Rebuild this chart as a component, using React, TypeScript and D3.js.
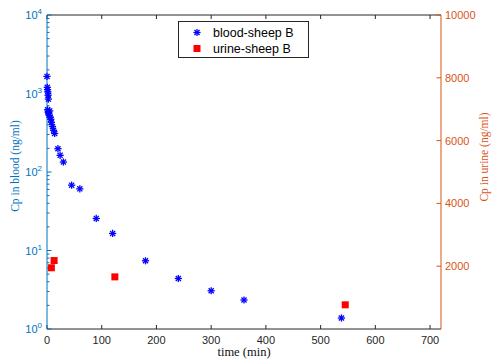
import React, { useEffect, useRef } from 'react';
import * as d3 from 'd3';

// blood-sheep B (left log axis)
const bloodTime = [0, 0.5, 1, 1.5, 2, 2.5, 1, 2, 3, 4, 5, 6, 7, 8, 10, 12, 14, 20, 24, 30, 45, 60, 90, 120, 180, 240, 300, 360, 538];
const bloodConc = [1650, 1200, 1120, 1050, 950, 850, 620, 580, 560, 530, 600, 500, 470, 430, 380, 340, 310, 198, 163, 134, 68, 61, 25.6, 16.5, 7.4, 4.4, 3.07, 2.34, 1.38];

// urine-sheep B (right linear axis)
const urineTime = [8, 13, 124, 545];
const urineConc = [1950, 2180, 1660, 770];

const xTicks = [0, 100, 200, 300, 400, 500, 600, 700];
const leftTicks = [1, 10, 100, 1000, 10000];
const rightTicks = [2000, 4000, 6000, 8000, 10000];
const legendLabels = ['blood-sheep B', 'urine-sheep B'];

const App: React.FC = () => {
  const svgRef = useRef<SVGSVGElement | null>(null);

  useEffect(() => {
    if (!svgRef.current) return;
    const width = 497;
    const height = 360;
    const margin = { top: 15, right: 56, bottom: 31, left: 47 };

    const svg = d3.select(svgRef.current);
    svg.selectAll('*').remove();

    const blueAxis = '#0072BD';
    const orangeAxis = '#D95319';
    const dark = '#262626';
    const sans = 'Liberation Sans, Arial, sans-serif';
    const serif = 'Liberation Serif, Times New Roman, serif';

    const x = d3.scaleLinear().domain([0, 720]).range([margin.left, width - margin.right]);
    const yL = d3.scaleLog().domain([1, 10000]).range([height - margin.bottom, margin.top]);
    const yR = d3.scaleLinear().domain([0, 10000]).range([height - margin.bottom, margin.top]);

    const g = svg.append('g');
    const x0 = margin.left, x1 = width - margin.right;
    const y0 = height - margin.bottom, y1 = margin.top;

    // white plot background
    g.append('rect').attr('x', x0).attr('y', y1).attr('width', x1 - x0).attr('height', y0 - y1).attr('fill', '#fff');

    // bottom / top axes
    g.append('line').attr('x1', x0).attr('x2', x1).attr('y1', y0).attr('y2', y0).attr('stroke', dark).attr('stroke-width', 1);
    g.append('line').attr('x1', x0).attr('x2', x1).attr('y1', y1).attr('y2', y1).attr('stroke', dark).attr('stroke-width', 1);
    xTicks.forEach(t => {
      g.append('line').attr('x1', x(t)).attr('x2', x(t)).attr('y1', y0).attr('y2', y0 - 4).attr('stroke', dark);
      g.append('line').attr('x1', x(t)).attr('x2', x(t)).attr('y1', y1).attr('y2', y1 + 4).attr('stroke', dark);
      g.append('text').attr('x', x(t)).attr('y', y0 + 15).attr('text-anchor', 'middle')
        .attr('font-family', sans).attr('font-size', 11).attr('fill', dark).text(t);
    });
    g.append('text').attr('x', (x0 + x1) / 2).attr('y', height - 4).attr('text-anchor', 'middle')
      .attr('font-family', serif).attr('font-size', 12.5).attr('fill', '#111').text('time (min)');

    // left log axis
    g.append('line').attr('x1', x0).attr('x2', x0).attr('y1', y0).attr('y2', y1).attr('stroke', blueAxis);
    for (let e = 0; e < 4; e++) {
      for (let m = 2; m <= 9; m++) {
        const v = m * Math.pow(10, e);
        g.append('line').attr('x1', x0).attr('x2', x0 + 2.5).attr('y1', yL(v)).attr('y2', yL(v)).attr('stroke', blueAxis);
      }
    }
    leftTicks.forEach((t, i) => {
      g.append('line').attr('x1', x0).attr('x2', x0 + 4.5).attr('y1', yL(t)).attr('y2', yL(t)).attr('stroke', blueAxis);
      const tx = g.append('text').attr('x', x0 - 5).attr('y', yL(t) + 4).attr('text-anchor', 'end')
        .attr('font-family', sans).attr('font-size', 11).attr('fill', blueAxis);
      tx.append('tspan').text('10');
      tx.append('tspan').attr('dy', -5).attr('font-size', 8).text(String(i));
    });
    g.append('text').attr('transform', `translate(19,${(y0 + y1) / 2 - 6}) rotate(-90)`).attr('text-anchor', 'middle')
      .attr('font-family', serif).attr('font-size', 11.5).attr('fill', blueAxis).text('Cp in blood (ng/ml)');

    // right linear axis
    g.append('line').attr('x1', x1).attr('x2', x1).attr('y1', y0).attr('y2', y1).attr('stroke', orangeAxis);
    rightTicks.forEach(t => {
      g.append('line').attr('x1', x1).attr('x2', x1 - 4.5).attr('y1', yR(t)).attr('y2', yR(t)).attr('stroke', orangeAxis);
      g.append('text').attr('x', x1 + 4).attr('y', yR(t) + 4).attr('text-anchor', 'start')
        .attr('font-family', sans).attr('font-size', 11).attr('fill', orangeAxis).text(t);
    });
    g.append('text').attr('transform', `translate(488,${(y0 + y1) / 2 - 15}) rotate(-90)`).attr('text-anchor', 'middle')
      .attr('font-family', serif).attr('font-size', 11.5).attr('fill', orangeAxis).text('Cp in urine (ng/ml)');

    // asterisk marker
    const star = (sel: d3.Selection<SVGGElement, unknown, null, undefined>, cx: number, cy: number, r: number) => {
      const gg = sel.append('g').attr('transform', `translate(${cx},${cy})`).attr('stroke', '#0000ff').attr('stroke-width', 1.3);
      [0, 45, 90, 135].forEach(a => {
        const rad = (a * Math.PI) / 180;
        gg.append('line').attr('x1', -r * Math.cos(rad)).attr('y1', -r * Math.sin(rad))
          .attr('x2', r * Math.cos(rad)).attr('y2', r * Math.sin(rad));
      });
    };

    const pts = g.append('g');
    bloodTime.forEach((t, i) => star(pts, x(t), yL(bloodConc[i]), 3.6));
    urineTime.forEach((t, i) => {
      pts.append('rect').attr('x', x(t) - 3.5).attr('y', yR(urineConc[i]) - 3.5).attr('width', 7).attr('height', 7).attr('fill', '#ff0000');
    });

    // legend
    const lg = g.append('g');
    lg.append('rect').attr('x', 178.5).attr('y', 21.5).attr('width', 130).attr('height', 36)
      .attr('fill', '#fff').attr('stroke', dark).attr('stroke-width', 1);
    star(lg as any, 197, 32.5, 3.6);
    lg.append('rect').attr('x', 193.5).attr('y', 45).attr('width', 7).attr('height', 7).attr('fill', '#ff0000');
    legendLabels.forEach((l, i) => {
      lg.append('text').attr('x', 213).attr('y', 37 + i * 16).attr('font-family', sans).attr('font-size', 12.5)
        .attr('fill', '#000').text(l);
    });
  }, []);

  return (
    <svg ref={svgRef} width={497} height={360} style={{ position: 'absolute', left: 0, top: 0, background: '#fff' }} />
  );
};

export default App;
